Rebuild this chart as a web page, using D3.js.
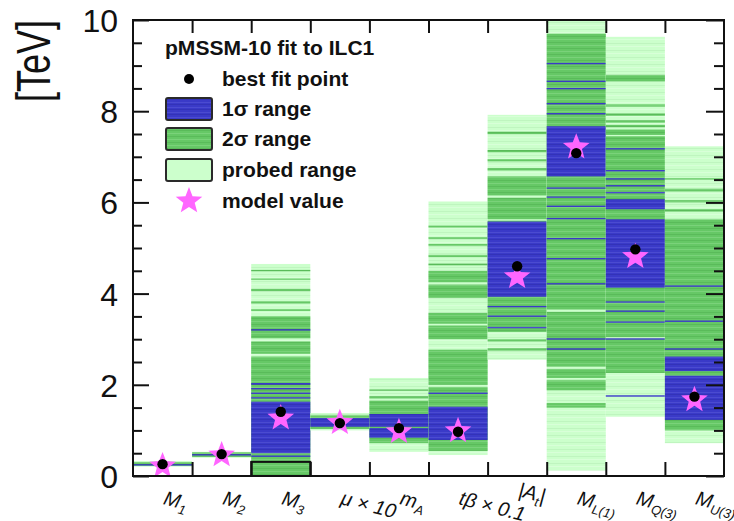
<!DOCTYPE html>
<html>
<head>
<meta charset="utf-8">
<script src="https://cdn.jsdelivr.net/npm/d3@7"></script>
<style>
  html, body { margin: 0; padding: 0; background: #fff; }
  svg { display: block; font-family: "Liberation Sans", Arial, Helvetica, sans-serif; }
</style>
</head>
<body>
<svg id="chart" width="734" height="521"></svg>
<script>
// ---- parameters of the pMSSM-10 fit (values in TeV) ----
const categories = ["M1", "M2", "M3", "mu10", "mA", "tb01", "At", "ML1", "MQ3", "MU3"];
const labelMain = ["M", "M", "M", "μ × 10", "m", "tβ × 0.1", "|A", "M", "M", "M"];
const labelSub  = ["1", "2", "3", "", "A", "", "t", "L(1)", "Q(3)", "U(3)"];
const labelTail = ["", "", "", "", "", "", "|", "", "", ""];

// full range scanned for each parameter
const probedRange = [
  [0.20, 0.33], [0.40, 0.53], [0.30, 4.65], [1.00, 1.38], [0.53, 2.15],
  [0.46, 6.02], [2.55, 7.92], [0.12, 10.0], [1.30, 9.63], [0.72, 7.23]
];

// lowest block of the M3 column
const m3Floor = [0.0, 0.31];

// 2 sigma intervals
const sigma2 = [
  [[0.22, 0.30]],
  [[0.42, 0.52]],
  [[0.33, 2.62], [2.68, 2.95], [3.02, 3.50], [3.62, 3.66], [3.78, 3.83], [4.05, 4.10], [4.30, 4.33], [4.50, 4.52]],
  [[1.03, 1.33]],
  [[0.72, 1.65], [1.70, 1.75], [1.88, 1.90]],
  [[0.55, 1.95], [2.00, 2.77], [3.00, 3.30], [3.34, 3.58], [3.90, 4.20], [4.25, 4.50], [4.62, 4.66], [4.80, 4.85], [5.05, 5.09], [5.20, 5.24], [5.45, 5.49]],
  [[2.75, 2.80], [2.95, 3.00], [3.16, 5.60], [5.63, 6.10], [6.15, 6.57], [6.70, 6.75], [6.90, 6.95], [7.10, 7.15], [7.50, 7.55]],
  [[1.50, 1.60], [1.88, 2.10], [2.15, 2.35], [2.40, 3.60], [3.65, 9.70]],
  [[2.26, 3.00], [3.05, 7.45], [7.48, 7.60], [7.65, 7.70], [7.75, 7.80], [7.90, 7.95], [8.10, 8.15], [8.65, 8.80]],
  [[1.00, 5.63], [5.80, 5.85], [6.00, 6.05], [6.24, 6.30], [6.50, 6.53]]
];

// 1 sigma intervals
const sigma1 = [
  [[0.24, 0.26]],
  [[0.46, 0.48]],
  [[0.42, 0.45], [0.50, 1.63], [1.70, 1.73], [1.80, 1.83], [1.90, 1.93], [2.00, 2.04], [3.19, 3.22]],
  [[1.08, 1.27]],
  [[0.84, 1.05], [1.08, 1.36]],
  [[0.79, 1.52], [1.80, 1.83]],
  [[3.24, 3.27], [3.49, 3.52], [3.70, 3.73], [3.93, 5.58]],
  [[2.77, 2.80], [2.99, 3.02], [4.20, 4.23], [4.75, 4.78], [5.19, 5.22], [5.63, 5.66], [5.90, 5.93], [6.10, 6.13], [6.30, 6.33], [6.57, 7.67], [7.93, 7.96], [8.15, 8.18], [8.48, 8.51], [8.64, 8.67], [9.03, 9.06]],
  [[1.74, 1.77], [2.99, 3.02], [3.36, 3.39], [3.60, 3.63], [3.80, 3.83], [4.13, 5.63], [5.85, 6.07], [6.20, 6.23], [6.35, 6.38], [6.50, 6.53], [6.68, 6.71], [7.16, 7.19]],
  [[1.23, 2.20], [2.30, 2.62], [2.77, 2.80], [3.38, 3.41], [4.15, 4.18]]
];

const bestFit    = [0.26, 0.48, 1.41, 1.16, 1.05, 0.97, 4.60, 7.08, 4.97, 1.74];
const modelValue = [0.22, 0.46, 1.27, 1.17, 0.97, 0.99, 4.37, 7.21, 4.81, 1.67];

const yMajorTicks = [0, 2, 4, 6, 8, 10];
const yMinorTicks = [0.5, 1, 1.5, 2.5, 3, 3.5, 4.5, 5, 5.5, 6.5, 7, 7.5, 8.5, 9, 9.5];

const legendTitle = "pMSSM-10 fit to ILC1";
const legendItems = ["best fit point", "1σ range", "2σ range", "probed range", "model value"];

// ---- styling ----
const colors = {
  light: "#ccffcc",
  green: "#66c866",
  blue:  "#3a3ac8",
  star:  "#ff66ff",
  dot:   "#000000"
};

const W = 734, H = 521;
const margin = { left: 133, top: 20, right: 10, bottom: 45 };
const plotW = W - margin.left - margin.right;
const plotH = H - margin.top - margin.bottom;

const svg = d3.select("#chart");

// horizontal stripe textures for the filled ranges
const defs = svg.append("defs");
function stripePattern(id, base, lines, h) {
  const p = defs.append("pattern")
    .attr("id", id).attr("patternUnits", "userSpaceOnUse")
    .attr("width", 8).attr("height", h);
  p.append("rect").attr("width", 8).attr("height", h).attr("fill", base);
  lines.forEach(([off, c]) => p.append("rect").attr("y", off).attr("width", 8).attr("height", 1).attr("fill", c));
}
stripePattern("pat-light", colors.light, [[2, "#bff5bf"], [5, "#d8ffd8"]], 7);
stripePattern("pat-green", colors.green, [[1, "#7ad27a"], [4, "#5abb5a"]], 6);
stripePattern("pat-blue",  colors.blue,  [[2, "#4b4bd0"], [4, "#3333b8"]], 5);

const g = svg.append("g").attr("transform", `translate(${margin.left},${margin.top})`);

const x = d3.scaleBand().domain(categories).range([0, plotW]).paddingInner(0).paddingOuter(0);
const xEdge = d3.scaleLinear().domain([0, categories.length]).range([0, plotW]);
const y = d3.scaleLinear().domain([0, 10]).range([plotH, 0]);

function bandRect(sel, cat, lo, hi, fill) {
  const y0 = y(hi), y1 = y(lo);
  sel.append("rect")
    .attr("x", x(cat)).attr("width", x.bandwidth())
    .attr("y", y0).attr("height", Math.max(1.4, y1 - y0))
    .attr("fill", fill);
}

const bands = g.append("g");
categories.forEach((cat, i) => {
  const [plo, phi] = probedRange[i];
  bandRect(bands, cat, plo, phi, "url(#pat-light)");
  sigma2[i].forEach(([lo, hi]) => bandRect(bands, cat, lo, hi, "url(#pat-green)"));
  sigma1[i].forEach(([lo, hi]) => bandRect(bands, cat, lo, hi, "url(#pat-blue)"));
});

// outlined floor block in the M3 column
g.append("rect")
  .attr("x", x("M3")).attr("width", x.bandwidth())
  .attr("y", y(m3Floor[1])).attr("height", y(m3Floor[0]) - y(m3Floor[1]))
  .attr("fill", "url(#pat-green)").attr("stroke", "#111").attr("stroke-width", 2);

// five-pointed star path
function starPath(R, r) {
  const pts = [];
  for (let k = 0; k < 10; k++) {
    const rad = k % 2 === 0 ? R : r;
    const a = -Math.PI / 2 + k * Math.PI / 5;
    pts.push([rad * Math.cos(a), rad * Math.sin(a)]);
  }
  return "M" + pts.map(p => p[0].toFixed(2) + "," + p[1].toFixed(2)).join("L") + "Z";
}
const STAR = starPath(14, 6);

// model values and best-fit points
g.append("g").selectAll("path").data(modelValue).join("path")
  .attr("d", STAR)
  .attr("transform", (d, i) => `translate(${x(categories[i]) + x.bandwidth() / 2},${y(d)})`)
  .attr("fill", colors.star);

g.append("g").selectAll("circle").data(bestFit).join("circle")
  .attr("cx", (d, i) => x(categories[i]) + x.bandwidth() / 2)
  .attr("cy", d => y(d))
  .attr("r", 5.2)
  .attr("fill", colors.dot);

// ---- axes (ticks pointing into the frame) ----
const axisStyle = sel => {
  sel.select(".domain").remove();
  sel.selectAll(".tick line").attr("stroke", "#111").attr("stroke-width", 2);
};

g.append("g")
  .call(d3.axisLeft(y).tickValues(yMajorTicks).tickSizeInner(-16).tickSizeOuter(0).tickPadding(15).tickFormat(d3.format("d")))
  .call(axisStyle)
  .call(s => s.selectAll("text").attr("font-size", 32).attr("fill", "#111").attr("dy", "0.36em"));
g.append("g")
  .call(d3.axisLeft(y).tickValues(yMinorTicks).tickSizeInner(-9).tickSizeOuter(0).tickFormat(""))
  .call(axisStyle);

g.append("g").attr("transform", `translate(${plotW},0)`)
  .call(d3.axisRight(y).tickValues(yMajorTicks).tickSizeInner(-18).tickSizeOuter(0).tickFormat(""))
  .call(axisStyle);
g.append("g").attr("transform", `translate(${plotW},0)`)
  .call(d3.axisRight(y).tickValues(yMinorTicks).tickSizeInner(-10).tickSizeOuter(0).tickFormat(""))
  .call(axisStyle);

const binEdges = d3.range(1, categories.length);
g.append("g")
  .call(d3.axisTop(xEdge).tickValues(binEdges).tickSizeInner(-13).tickSizeOuter(0).tickFormat(""))
  .call(axisStyle);
g.append("g").attr("transform", `translate(0,${plotH})`)
  .call(d3.axisBottom(xEdge).tickValues(binEdges).tickSizeInner(-14).tickSizeOuter(0).tickFormat(""))
  .call(axisStyle);

// frame
g.append("rect").attr("width", plotW).attr("height", plotH)
  .attr("fill", "none").attr("stroke", "#111").attr("stroke-width", 2);

// ---- category labels, slanted under each column ----
const labels = g.append("g").attr("font-style", "italic").attr("fill", "#111");
categories.forEach((cat, i) => {
  const cx = x(cat) + x.bandwidth() / 2;
  const by = plotH + (labelMain[i] === "|A" ? 20 : 28);
  const t = labels.append("text")
    .attr("transform", `translate(${cx},${by}) rotate(15)`)
    .attr("font-size", 20);
  t.append("tspan").text(labelMain[i]);
  if (labelSub[i]) t.append("tspan").attr("font-size", 13).attr("dy", 5).text(labelSub[i]);
  if (labelTail[i]) t.append("tspan").attr("dy", -5).text(labelTail[i]);
});

// ---- y-axis title ----
svg.append("text")
  .attr("transform", "translate(50,20) scale(1.35,1) rotate(-90)")
  .attr("text-anchor", "end")
  .attr("font-size", 36)
  .attr("fill", "#111")
  .text("[TeV]");

// ---- legend ----
const leg = svg.append("g").attr("font-weight", "bold").attr("font-size", 19.5).attr("fill", "#111");
const wideText = (tx, ty, s) =>
  leg.append("text").attr("transform", `translate(${tx},${ty}) scale(1.08,1)`).text(s);
wideText(165, 55, legendTitle);

const rowY = [79, 109, 139, 170, 201];
const textX = 222, symX = 189;
legendItems.forEach((label, k) => wideText(textX, rowY[k] + 7, label));
leg.append("circle").attr("cx", symX).attr("cy", rowY[0]).attr("r", 5).attr("fill", colors.dot);
[["url(#pat-blue)", 1], ["url(#pat-green)", 2], [colors.light, 3]].forEach(([fill, k]) => {
  leg.append("rect")
    .attr("x", 166).attr("y", rowY[k] - 11).attr("width", 46).attr("height", 22)
    .attr("rx", 2).attr("fill", fill)
    .attr("stroke", "#2a2a2a").attr("stroke-width", 2);
});
leg.append("path").attr("d", STAR).attr("transform", `translate(${symX},${rowY[4]})`).attr("fill", colors.star);
</script>
</body>
</html>
